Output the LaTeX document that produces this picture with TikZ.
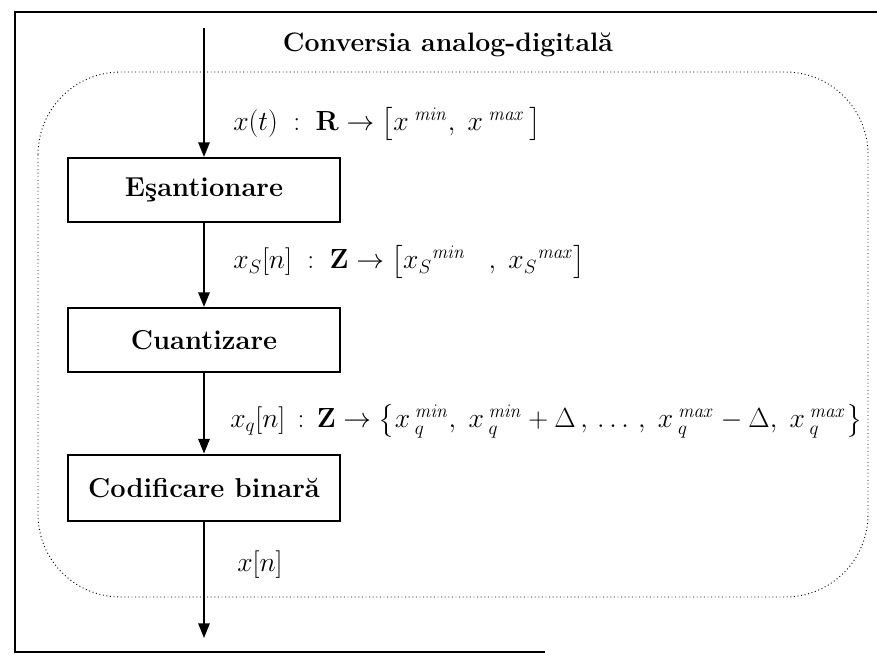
\documentclass[tikz,border=0pt]{standalone}
\usepackage{amsmath}
\usetikzlibrary{arrows.meta}
\DeclareMathSizes{19.5}{19.5}{14}{10}
\begin{document}
\begin{tikzpicture}[x=0.75pt,y=-0.75pt,
  frame/.style={line width=1.4pt},
  blockbox/.style={draw,line width=1.6pt,minimum width=204pt,inner sep=0pt,
    font=\fontsize{20.5}{24}\selectfont\bfseries},
  flow/.style={line width=1.5pt,-{Triangle[length=11pt,width=8.5pt]}},
  lbl/.style={anchor=west,inner sep=0pt,font=\fontsize{19.5}{23}\selectfont},
  region/.style={dotted,line width=0.7pt,rounded corners=62pt}]
\useasboundingbox (0,0) rectangle (877,657);
% outer frame
\draw[frame] (877,12) -- (15,12) -- (15,652) -- (545,652);
% title
\node[inner sep=0pt,font=\fontsize{20}{24}\selectfont\bfseries] (title) at (448,45) {Conversia analog-digitală};
% dotted region
\draw[region] (38,72) rectangle (868,597);
% blocks
\node[blockbox,minimum height=48pt] (b1) at (204,190) {Eşantionare};
\node[blockbox,minimum height=48pt] (b2) at (204,340) {Cuantizare};
\node[blockbox,minimum height=50pt] (b3) at (204,488) {Codificare binară};
\coordinate (in) at (204,28);
\coordinate (out) at (204,638);
\draw[flow] (in) -- (b1.north);
\draw[flow] (b1.south) -- (b2.north);
\draw[flow] (b2.south) -- (b3.north);
\draw[flow] (b3.south) -- (out);
% labels
\node[lbl] (l1) at (233,124) {$x(t)\;:\;\mathbf{R}\rightarrow\bigl[x^{\;\mathit{min}},\;x^{\;\mathit{max}}\,\bigr]$};
\node[lbl] (l2) at (233,262) {$x_S[n]\;:\;\mathbf{Z}\rightarrow\bigl[x_S{}^{\mathit{min}}\;\;\;,\;x_S{}^{\mathit{max}}\bigr]$};
\node[lbl] (l3) at (230,421) {$x_q[n]\,:\,\mathbf{Z}\rightarrow\bigl\{x\,{}_q^{\mathit{min}},\;x\,{}_q^{\mathit{min}}+\Delta\,,\,\ldots\,,\;x\,{}_q^{\mathit{max}}-\Delta,\;x\,{}_q^{\mathit{max}}\bigr\}$};
\node[lbl] (l4) at (237,565) {$x[n]$};
\end{tikzpicture}
\end{document}
